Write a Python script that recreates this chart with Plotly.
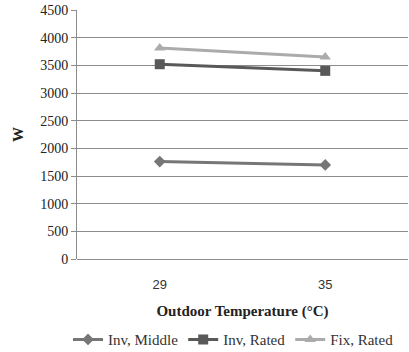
import plotly.graph_objects as go

categories = ["29", "35"]
inv_middle = [1760, 1700]
inv_rated = [3520, 3400]
fix_rated = [3815, 3650]
y_ticks = [0, 500, 1000, 1500, 2000, 2500, 3000, 3500, 4000, 4500]

serif = "'Times New Roman', 'Liberation Serif', 'DejaVu Serif', serif"
sans = "'Liberation Sans', Arial, sans-serif"

fig = go.Figure()
fig.add_trace(go.Scatter(x=categories, y=inv_middle, name="Inv, Middle", mode="lines+markers",
                         line=dict(color="#767676", width=3),
                         marker=dict(symbol="diamond", size=9, color="#767676")))
fig.add_trace(go.Scatter(x=categories, y=inv_rated, name="Inv, Rated", mode="lines+markers",
                         line=dict(color="#595959", width=3),
                         marker=dict(symbol="square", size=10, color="#595959")))
fig.add_trace(go.Scatter(x=categories, y=fix_rated, name="Fix, Rated", mode="lines+markers",
                         line=dict(color="#ababab", width=3),
                         marker=dict(symbol="triangle-up", size=10, color="#ababab")))

fig.update_layout(
    width=409, height=352,
    margin=dict(l=77, r=1, t=10, b=93, autoexpand=False),
    paper_bgcolor="white", plot_bgcolor="white",
    font=dict(family=serif, size=12, color="#222"),
    showlegend=True,
    legend=dict(orientation="h", x=68 / 409, xref="container", xanchor="left",
                y=0.035, yref="container", yanchor="middle",
                font=dict(family=serif, size=15, color="#333"),
                itemwidth=30, tracegroupgap=0),
    xaxis=dict(type="category", range=[-0.5, 1.5], showgrid=False, automargin=False,
               showline=False, ticks="", zeroline=False, ticklabelstandoff=16,
               tickfont=dict(family=sans, size=13, color="#333"),
               title=dict(text="<b>Outdoor Temperature (°C)</b>", standoff=14,
                          font=dict(family=serif, size=15, color="#222"))),
    yaxis=dict(range=[0, 4500], tickvals=y_ticks, showgrid=True, gridcolor="#8c8c8c",
               gridwidth=1, showline=True, linecolor="#8c8c8c", linewidth=1, automargin=False,
               ticks="outside", ticklen=5, tickcolor="#8c8c8c", zeroline=True,
               zerolinecolor="#8c8c8c", zerolinewidth=1,
               tickfont=dict(family=serif, size=14, color="#222"),
               title=dict(text="<b>W</b>", standoff=12,
                          font=dict(family=serif, size=15, color="#222"))),
)

fig.write_html("out.html")
